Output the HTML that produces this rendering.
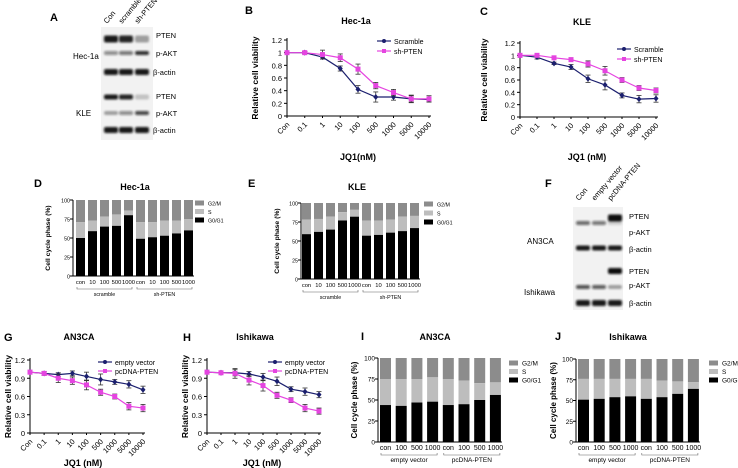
<!DOCTYPE html>
<html><head><meta charset="utf-8"><style>
body{margin:0;background:#fff}
svg{display:block;font-family:"Liberation Sans",Arial,sans-serif}
</style></head><body>
<svg id="fig" width="738" height="468" viewBox="0 0 738 468" xmlns="http://www.w3.org/2000/svg">
<defs><filter id="blur" x="-20%" y="-50%" width="140%" height="200%"><feGaussianBlur stdDeviation="1.1"/></filter></defs>
<g font-weight="bold" font-size="11">
<text x="50" y="21">A</text>
<text x="245" y="14">B</text>
<text x="480" y="15">C</text>
<text x="34" y="187">D</text>
<text x="248" y="187">E</text>
<text x="545" y="187">F</text>
<text x="4" y="341">G</text>
<text x="183" y="341">H</text>
<text x="361" y="340">I</text>
<text x="555" y="340">J</text>
</g>
<g id="blots"></g>
<g id="charts"></g>
</svg>
<script>
// ---- Data ----
const doses = ["Con","0.1","1","10","100","500","1000","5000","10000"];
const yTicksB = [0,0.2,0.4,0.6,0.8,1,1.2];
const yTicksG = [0,0.3,0.6,0.9,1.2];
const bScramble = [1,1,0.93,0.75,0.42,0.3,0.3,0.27,0.26];
const bShPTEN = [1,1,0.97,0.92,0.74,0.48,0.37,0.27,0.27];
const bErrS = [0.02,0.02,0.03,0.04,0.06,0.08,0.05,0.05,0.04];
const bErrP = [0.02,0.02,0.07,0.06,0.08,0.05,0.05,0.06,0.05];
const cScramble = [1,0.97,0.87,0.81,0.62,0.52,0.35,0.29,0.3];
const cShPTEN = [1,1,0.96,0.93,0.86,0.75,0.6,0.47,0.43];
const cErrS = [0.03,0.03,0.02,0.04,0.06,0.08,0.04,0.06,0.06];
const cErrP = [0.03,0.03,0.02,0.03,0.05,0.07,0.04,0.04,0.04];
const gEmpty = [1,0.98,0.96,0.98,0.93,0.88,0.84,0.8,0.71];
const gPcDNA = [1,0.98,0.9,0.86,0.79,0.67,0.6,0.44,0.41];
const gErrE = [0.03,0.03,0.03,0.04,0.07,0.09,0.04,0.06,0.06];
const gErrP = [0.03,0.03,0.07,0.06,0.08,0.05,0.04,0.06,0.06];
const hEmpty = [1,0.99,0.99,0.97,0.92,0.85,0.72,0.68,0.63];
const hPcDNA = [1,0.99,0.98,0.87,0.78,0.62,0.54,0.41,0.36];
const hErrE = [0.03,0.03,0.05,0.04,0.06,0.07,0.04,0.06,0.05];
const hErrP = [0.03,0.03,0.08,0.08,0.09,0.05,0.04,0.06,0.05];
const pctTicks = [0,25,50,75,100];
const dLabels = ["con","10","100","500","1000","con","10","100","500","1000"];
const dG0 = [50,59,65,66,80,49,51,53,56,60];
const dS = [21,14,13,15,6,22,20,20,17,15];
const eG0 = [59,62,65,77,82,57,58,61,63,67];
const eS = [19,17,17,11,9,20,19,17,19,16];
const iLabels = ["con","100","500","1000","con","100","500","1000"];
const iG0 = [44,43,47,48,44,45,50,56];
const iS = [31,32,28,29,31,28,20,15];
const jG0 = [51,52,54,55,52,54,58,64];
const jS = [25,24,22,21,24,20,15,8];

const NS="http://www.w3.org/2000/svg";
const charts=document.getElementById('charts');
function el(tag,attrs,parent,txt){const e=document.createElementNS(NS,tag);for(const k in attrs)e.setAttribute(k,attrs[k]);if(txt!==undefined)e.textContent=txt;(parent||charts).appendChild(e);return e;}

function lineChart(o){
  const g=el('g',{});
  
  
  const ymax=o.ticks[o.ticks.length-1];
  const ys=v=>o.y0-(v/ymax)*(o.y0-o.y1);
  const xs=i=>o.x0+i*(o.x1-o.x0)/(o.cats.length-1);
  el('line',{x1:o.x0,y1:o.y1-2,x2:o.x0,y2:o.y0,stroke:'#000','stroke-width':1},g);
  el('line',{x1:o.x0,y1:o.y0,x2:o.x1+2,y2:o.y0,stroke:'#000','stroke-width':1},g);
  o.ticks.forEach(t=>{const y=ys(t);
    el('line',{x1:o.x0-3,y1:y,x2:o.x0,y2:y,stroke:'#000'},g);
    const tx=el('text',{x:o.x0-5,y:y+3,'font-size':7.5,'text-anchor':'end'},g,String(t));
    
    
  });
  o.cats.forEach((c,i)=>{const x=xs(i);
    el('line',{x1:x,y1:o.y0,x2:x,y2:o.y0+2,stroke:'#000'},g);
    const tx=el('text',{x:x+3,y:o.y0+9,'font-size':7.5,'text-anchor':'end',transform:`rotate(-45 ${x+3} ${o.y0+9})`},g,c);
    
    
  });
  o.series.forEach(s=>{
    const pts=s.v.map((v,i)=>xs(i)+','+ys(v)).join(' ');
    el('polyline',{points:pts,fill:'none',stroke:s.c,'stroke-width':1.2},g);
    s.v.forEach((v,i)=>{const x=xs(i),e=s.e[i];
      el('line',{x1:x,y1:ys(v+e),x2:x,y2:ys(v-e),stroke:'#333','stroke-width':0.8},g);
      el('line',{x1:x-2.5,y1:ys(v+e),x2:x+2.5,y2:ys(v+e),stroke:'#333','stroke-width':0.8},g);
      el('line',{x1:x-2.5,y1:ys(v-e),x2:x+2.5,y2:ys(v-e),stroke:'#333','stroke-width':0.8},g);
      let m;
      if(s.sq) m=el('rect',{x:x-2.5,y:ys(v)-2.5,width:5,height:5,fill:s.c},g);
      else m=el('path',{d:`M${x} ${ys(v)-3}L${x+2.5} ${ys(v)}L${x} ${ys(v)+3}L${x-2.5} ${ys(v)}Z`,fill:s.c},g);
      
      
    });
  });
  o.series.forEach((s,k)=>{const ly=o.ly+k*o.lgap;
    const lg=el('g',{},g);
    
    
    el('line',{x1:o.lx,y1:ly,x2:o.lx+14,y2:ly,stroke:s.c,'stroke-width':1.2},lg);
    if(s.sq) el('rect',{x:o.lx+5,y:ly-2,width:4,height:4,fill:s.c},lg);
    else el('circle',{cx:o.lx+7,cy:ly,r:2,fill:s.c},lg);
    el('text',{x:o.lx+17,y:ly+3,'font-size':7},lg,s.n);
  });
  const t=el('text',{x:o.tx,y:o.ty,'font-size':9,'font-weight':'bold','text-anchor':'middle'},g,o.title);
  
  
  const yt=el('text',{x:o.ytx,y:(o.y0+o.y1)/2,'font-size':8.5,'font-weight':'bold','text-anchor':'middle',transform:`rotate(-90 ${o.ytx} ${(o.y0+o.y1)/2})`},g,'Relative cell viability');
  
  
  const xt=el('text',{x:o.xtx,y:o.xty,'font-size':9,'font-weight':'bold','text-anchor':'middle'},g,o.xtitle);
  
  
}
const NAVY='#1b1f6e',PINK='#e544e0';
lineChart({name:'chart-b',cats:doses,ticks:yTicksB,x0:287,x1:429,y0:116,y1:40,title:'Hec-1a',tx:356,ty:24,ytx:258,xtitle:'JQ1(nM)',xtx:358,xty:160,lx:377,ly:41,lgap:10,
  series:[{n:'Scramble',v:bScramble,e:bErrS,c:NAVY},{n:'sh-PTEN',v:bShPTEN,e:bErrP,c:PINK,sq:1}]});
lineChart({name:'chart-c',cats:doses,ticks:yTicksB,x0:520,x1:656,y0:117,y1:43,title:'KLE',tx:582,ty:25,ytx:487,xtitle:'JQ1 (nM)',xtx:587,xty:160,lx:617,ly:49,lgap:10,
  series:[{n:'Scramble',v:cScramble,e:cErrS,c:NAVY},{n:'sh-PTEN',v:cShPTEN,e:cErrP,c:PINK,sq:1}]});
lineChart({name:'chart-g',cats:doses,ticks:yTicksG,x0:30,x1:143,y0:433,y1:360,title:'AN3CA',tx:79,ty:340,ytx:11,xtitle:'JQ1 (nM)',xtx:83,xty:466,lx:98,ly:362,lgap:9,
  series:[{n:'empty vector',v:gEmpty,e:gErrE,c:NAVY},{n:'pcDNA-PTEN',v:gPcDNA,e:gErrP,c:PINK,sq:1}]});
lineChart({name:'chart-h',cats:doses,ticks:yTicksG,x0:207,x1:319,y0:433,y1:360,title:'Ishikawa',tx:255,ty:340,ytx:188,xtitle:'JQ1 (nM)',xtx:262,xty:466,lx:268,ly:362,lgap:9,
  series:[{n:'empty vector',v:hEmpty,e:hErrE,c:NAVY},{n:'pcDNA-PTEN',v:hPcDNA,e:hErrP,c:PINK,sq:1}]});

function barChart(o){
  const g=el('g',{});
  
  
  const ys=v=>o.y0-(v/100)*(o.y0-o.y1);
  el('line',{x1:o.x0,y1:o.y1,x2:o.x0,y2:o.y0,stroke:'#000','stroke-width':1},g);
  el('line',{x1:o.x0,y1:o.y0,x2:o.bx+(o.g0.length-1)*o.sp+o.bw+1,y2:o.y0,stroke:'#000','stroke-width':1},g);
  pctTicks.forEach(t=>{const y=ys(t);
    el('line',{x1:o.x0-3,y1:y,x2:o.x0,y2:y,stroke:'#000'},g);
    const tx=el('text',{x:o.x0-3,y:y+2.5,'font-size':o.fs-0.5,'text-anchor':'end'},g,String(t));
    
    
  });
  o.g0.forEach((v,i)=>{const x=o.bx+i*o.sp,s=o.s[i];
    const r1=el('rect',{x:x,y:ys(100),width:o.bw,height:ys(v+s)-ys(100),fill:'#8c8c8c'},g);
    
    
    const r2=el('rect',{x:x,y:ys(v+s),width:o.bw,height:ys(v)-ys(v+s),fill:'#bdbdbd'},g);
    
    
    const r3=el('rect',{x:x,y:ys(v),width:o.bw,height:o.y0-ys(v),fill:'#000'},g);
    
    
    el('text',{x:x+o.bw/2,y:o.y0+8,'font-size':o.fs,'text-anchor':'middle'},g,o.labels[i]);
  });
  const half=o.g0.length/2;
  o.groups.forEach((gn,k)=>{const xa=o.bx+k*half*o.sp+1,xb=o.bx+(k*half+half-1)*o.sp+o.bw-1,by=o.y0+13;
    el('path',{d:`M${xa} ${by-2}V${by}H${xb}V${by-2}`,fill:'none',stroke:'#666','stroke-width':0.6},g);
    el('text',{x:(xa+xb)/2,y:by+7,'font-size':o.fs-0.5,'text-anchor':'middle'},g,gn);
  });
  [['G2/M','#8c8c8c'],['S','#bdbdbd'],['G0/G1','#000']].forEach((l,k)=>{const ly=o.ly+k*o.lg;
    const lg=el('g',{},g);
    
    
    el('rect',{x:o.lx,y:ly-2.5,width:9,height:5,fill:l[1]},lg);
    el('text',{x:o.lx+13,y:ly+2.5,'font-size':o.fs-0.5},lg,l[0]);
  });
  const t=el('text',{x:o.tx,y:o.ty,'font-size':9,'font-weight':'bold','text-anchor':'middle'},g,o.title);
  
  
  const yc=(o.y0+o.y1)/2;
  const yt=el('text',{x:o.ytx,y:yc,'font-size':o.fs+1,'font-weight':'bold','text-anchor':'middle',transform:`rotate(-90 ${o.ytx} ${yc})`},g,'Cell cycle phase (%)');
  
  
}
barChart({name:'chart-d',g0:dG0,s:dS,labels:dLabels,groups:['scramble','sh-PTEN'],x0:73,y0:276,y1:200,bx:76,bw:9,sp:12,fs:5.8,lx:195,ly:203,lg:8.5,title:'Hec-1a',tx:135,ty:190,ytx:50});
barChart({name:'chart-e',g0:eG0,s:eS,labels:dLabels,groups:['scramble','sh-PTEN'],x0:301,y0:279,y1:203,bx:302,bw:9,sp:12,fs:5.8,lx:424,ly:204,lg:9,title:'KLE',tx:357,ty:190,ytx:279});
barChart({name:'chart-i',g0:iG0,s:iS,labels:iLabels,groups:['empty vector','pcDNA-PTEN'],x0:378,y0:442,y1:358,bx:380,bw:11,sp:15.7,fs:7,lx:509,ly:363,lg:8.5,title:'AN3CA',tx:435,ty:340,ytx:357});
barChart({name:'chart-j',g0:jG0,s:jS,labels:iLabels,groups:['empty vector','pcDNA-PTEN'],x0:576,y0:442,y1:359,bx:578,bw:11,sp:15.7,fs:7,lx:709,ly:363,lg:8.5,title:'Ishikawa',tx:628,ty:340,ytx:556});

// ---- western blots ----
const blots=document.getElementById('blots');
function blot(name,x,y,w,h,lanes,bands,labels,cells,laneNames,laneY){
  const g=el('g',{},blots);
  
  
  el('rect',{x:x,y:y,width:w,height:h,fill:'#f2f2f2'},g);
  bands.forEach(b=>{b.int.forEach((a,i)=>{if(a>0)el('rect',{x:lanes[i]-7,y:b.y-b.h/2,width:14,height:b.h,rx:2,fill:`rgba(15,15,15,${a})`,filter:'url(#blur)'},g);});});
  labels.forEach(l=>el('text',{x:l[0],y:l[1],'font-size':7.5},g,l[2]));
  cells.forEach(c=>el('text',{x:c[0],y:c[1],'font-size':8},g,c[2]));
  laneNames.forEach((n,i)=>el('text',{x:lanes[i]-4,y:laneY,'font-size':7.5,transform:`rotate(-50 ${lanes[i]-4} ${laneY})`},g,n));
}
blot('western-blot-a',101,27,52,113,[111,126,142],[
 {y:39,h:7,int:[0.95,0.9,0.35]},{y:53,h:4,int:[0.45,0.55,0.85]},{y:72,h:6,int:[0.95,0.95,0.95]},
 {y:97,h:5,int:[0.95,0.9,0.2]},{y:113,h:4,int:[0.35,0.45,0.75]},{y:130,h:6,int:[0.95,0.95,0.95]}],
 [[156,38,'PTEN'],[156,56,'p-AKT'],[153,75,'β-actin'],[156,99,'PTEN'],[156,116,'p-AKT'],[153,133,'β-actin']],
 [[73,59,'Hec-1a'],[76,116,'KLE']],['Con','scramble','sh-PTEN'],24);
blot('western-blot-f',573,207,50,103,[583,599,615],[
 {y:218,h:7,int:[0,0,1]},{y:223,h:4,int:[0.6,0.55,0.15]},{y:248,h:5,int:[0.95,0.95,0.95]},
 {y:271,h:6,int:[0,0,1]},{y:287,h:4,int:[0.7,0.65,0.35]},{y:303,h:6,int:[0.95,0.95,0.95]}],
 [[629,219,'PTEN'],[629,235,'p-AKT'],[629,252,'β-actin'],[629,274,'PTEN'],[629,288,'p-AKT'],[629,306,'β-actin']],
 [[527,244,'AN3CA'],[524,295,'Ishikawa']],['Con','empty vector','pcDNA-PTEN'],201);
</script>
</body></html>
